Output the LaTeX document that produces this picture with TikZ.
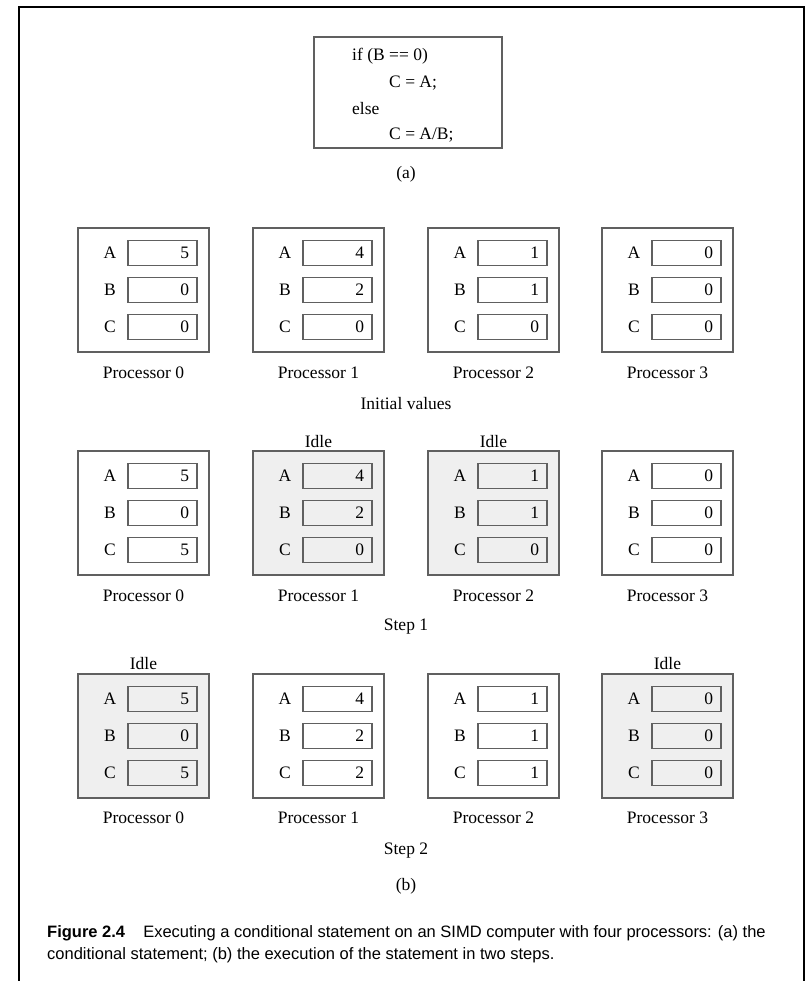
\documentclass[tikz,border=0pt]{standalone}
\usepackage{fontspec}
\setmainfont{Liberation Serif}
\newfontfamily\capfont{Liberation Sans}

\definecolor{boxgray}{HTML}{606060}
\definecolor{idlegray}{HTML}{EFEFEF}

\tikzset{
  proc/.style={draw=boxgray, line width=1.1pt, minimum width=131pt, minimum height=124pt, inner sep=0pt},
  procidle/.style={proc, fill=idlegray},
  reg/.style={draw=boxgray, line width=1.1pt, minimum width=69pt, minimum height=25pt,
    text width=53pt, align=right, inner xsep=8pt, inner ysep=0pt},
  regidle/.style={reg, fill=idlegray},
  code/.style={anchor=west, inner sep=0pt},
  figcaption/.style={anchor=west, inner sep=0pt, font=\capfont\fontsize{16.5}{20}\selectfont}
}

\begin{document}
\begin{tikzpicture}[x=1pt, y=-1pt, every node/.style={font=\fontsize{17.5}{21}\selectfont}]
    \useasboundingbox (0,0) rectangle (808,981);
    \draw[line width=2.5pt] (19,981) -- (19,7) -- (804,7) -- (804,981);

    % (a) the conditional statement
    \node[proc, minimum width=188pt, minimum height=111pt] (prog) at (408,92.5) {};
    \node[code] (l1) at (352,56) {if (B == 0)};
    \node[code] (l2) at (389,83) {C = A;};
    \node[code] (l3) at (352,109) {else};
    \node[code] (l4) at (389,135) {C = A/B;};
    \node (capa) at (406,174) {(a)};

    % initial values
    \node[proc] (i0) at (143.5,290) {};
    \node (i0A) at (110,253) {A}; \node (i0B) at (110,290) {B}; \node (i0C) at (110,327) {C};
    \node[reg] (i0a) at (162.5,253) {5}; \node[reg] (i0b) at (162.5,290) {0}; \node[reg] (i0c) at (162.5,327) {0};
    \node[proc] (i1) at (318.5,290) {};
    \node (i1A) at (285,253) {A}; \node (i1B) at (285,290) {B}; \node (i1C) at (285,327) {C};
    \node[reg] (i1a) at (337.5,253) {4}; \node[reg] (i1b) at (337.5,290) {2}; \node[reg] (i1c) at (337.5,327) {0};
    \node[proc] (i2) at (493.5,290) {};
    \node (i2A) at (460,253) {A}; \node (i2B) at (460,290) {B}; \node (i2C) at (460,327) {C};
    \node[reg] (i2a) at (512.5,253) {1}; \node[reg] (i2b) at (512.5,290) {1}; \node[reg] (i2c) at (512.5,327) {0};
    \node[proc] (i3) at (667.5,290) {};
    \node (i3A) at (634,253) {A}; \node (i3B) at (634,290) {B}; \node (i3C) at (634,327) {C};
    \node[reg] (i3a) at (686.5,253) {0}; \node[reg] (i3b) at (686.5,290) {0}; \node[reg] (i3c) at (686.5,327) {0};
    \node (i0n) at (143.5,373) {Processor 0};
    \node (i1n) at (318.5,373) {Processor 1};
    \node (i2n) at (493.5,373) {Processor 2};
    \node (i3n) at (667.5,373) {Processor 3};
    \node (init) at (406,404) {Initial values};

    % step 1
    \node (s1idle) at (318.5,442) {Idle};
    \node (s2idle) at (493.5,442) {Idle};
    \node[proc] (s0) at (143.5,513) {};
    \node (s0A) at (110,476) {A}; \node (s0B) at (110,513) {B}; \node (s0C) at (110,550) {C};
    \node[reg] (s0a) at (162.5,476) {5}; \node[reg] (s0b) at (162.5,513) {0}; \node[reg] (s0c) at (162.5,550) {5};
    \node[procidle] (s1) at (318.5,513) {};
    \node (s1A) at (285,476) {A}; \node (s1B) at (285,513) {B}; \node (s1C) at (285,550) {C};
    \node[regidle] (s1a) at (337.5,476) {4}; \node[regidle] (s1b) at (337.5,513) {2}; \node[regidle] (s1c) at (337.5,550) {0};
    \node[procidle] (s2) at (493.5,513) {};
    \node (s2A) at (460,476) {A}; \node (s2B) at (460,513) {B}; \node (s2C) at (460,550) {C};
    \node[regidle] (s2a) at (512.5,476) {1}; \node[regidle] (s2b) at (512.5,513) {1}; \node[regidle] (s2c) at (512.5,550) {0};
    \node[proc] (s3) at (667.5,513) {};
    \node (s3A) at (634,476) {A}; \node (s3B) at (634,513) {B}; \node (s3C) at (634,550) {C};
    \node[reg] (s3a) at (686.5,476) {0}; \node[reg] (s3b) at (686.5,513) {0}; \node[reg] (s3c) at (686.5,550) {0};
    \node (s0n) at (143.5,596) {Processor 0};
    \node (s1n) at (318.5,596) {Processor 1};
    \node (s2n) at (493.5,596) {Processor 2};
    \node (s3n) at (667.5,596) {Processor 3};
    \node (step1) at (406,627) {Step 1};

    % step 2
    \node (t0idle) at (143.5,664) {Idle};
    \node (t3idle) at (667.5,664) {Idle};
    \node[procidle] (t0) at (143.5,736) {};
    \node (t0A) at (110,699) {A}; \node (t0B) at (110,736) {B}; \node (t0C) at (110,773) {C};
    \node[regidle] (t0a) at (162.5,699) {5}; \node[regidle] (t0b) at (162.5,736) {0}; \node[regidle] (t0c) at (162.5,773) {5};
    \node[proc] (t1) at (318.5,736) {};
    \node (t1A) at (285,699) {A}; \node (t1B) at (285,736) {B}; \node (t1C) at (285,773) {C};
    \node[reg] (t1a) at (337.5,699) {4}; \node[reg] (t1b) at (337.5,736) {2}; \node[reg] (t1c) at (337.5,773) {2};
    \node[proc] (t2) at (493.5,736) {};
    \node (t2A) at (460,699) {A}; \node (t2B) at (460,736) {B}; \node (t2C) at (460,773) {C};
    \node[reg] (t2a) at (512.5,699) {1}; \node[reg] (t2b) at (512.5,736) {1}; \node[reg] (t2c) at (512.5,773) {1};
    \node[procidle] (t3) at (667.5,736) {};
    \node (t3A) at (634,699) {A}; \node (t3B) at (634,736) {B}; \node (t3C) at (634,773) {C};
    \node[regidle] (t3a) at (686.5,699) {0}; \node[regidle] (t3b) at (686.5,736) {0}; \node[regidle] (t3c) at (686.5,773) {0};
    \node (t0n) at (143.5,818) {Processor 0};
    \node (t1n) at (318.5,818) {Processor 1};
    \node (t2n) at (493.5,818) {Processor 2};
    \node (t3n) at (667.5,818) {Processor 3};
    \node (step2) at (406,851) {Step 2};
    \node (capb) at (406,886) {(b)};

    % caption
    \node[figcaption] (cap1) at (47,933) {\textbf{Figure 2.4}\hspace{1.1em}Executing a conditional statement on an SIMD computer with four processors: (a) the};
    \node[figcaption] (cap2) at (47,955) {conditional statement; (b) the execution of the statement in two steps.};
\end{tikzpicture}
\end{document}
